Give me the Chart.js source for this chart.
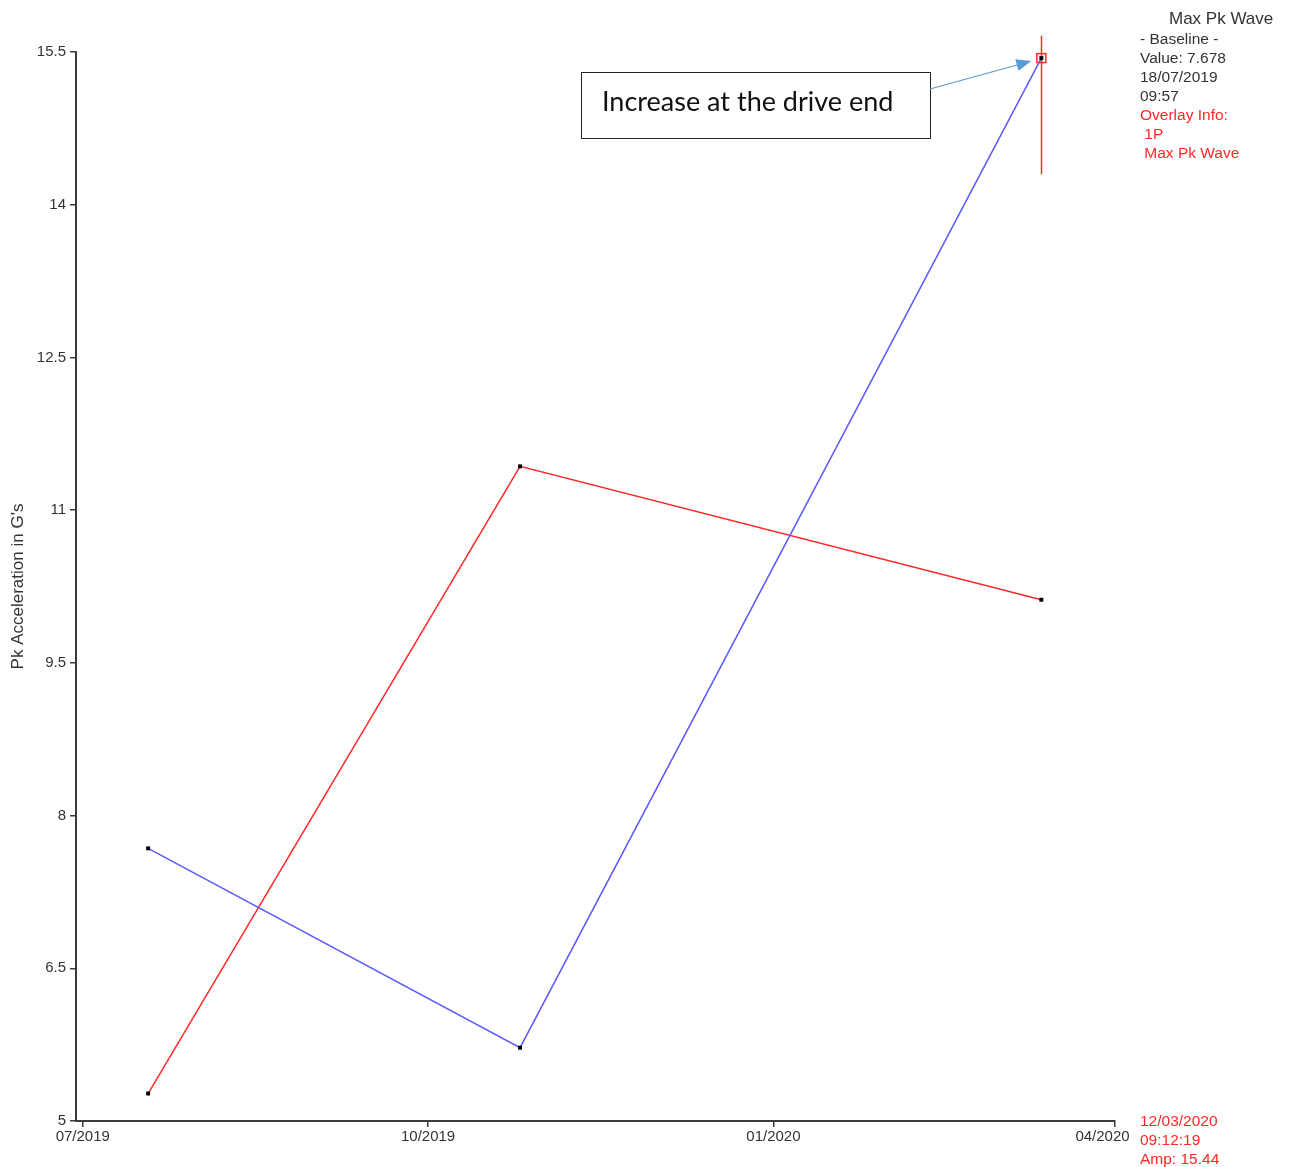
<!DOCTYPE html>
<html>
<head>
<meta charset="utf-8">
<script src="https://cdn.jsdelivr.net/npm/chart.js@4.4.1/dist/chart.umd.min.js"></script>
<style>
  body { margin: 0; background: #fff; }
  #wrap { width: 1290px; height: 1167px; position: relative; }
</style>
</head>
<body>
<div id="wrap"><canvas id="graph"></canvas></div>
<script>
// measurement dates and values
const dates = ['2019-07-18T09:57', '2019-10-25T12:00', '2020-03-12T09:12'];
const blueValues = [7.678, 5.72, 15.44];   // Max Pk Wave
const redValues = [5.27, 11.43, 10.12];    // overlay 1P Max Pk Wave

// axis ticks
const tickDates = ['2019-07-01T00:00', '2019-10-01T00:00', '2020-01-01T00:00', '2020-04-01T00:00'];
const tickLabels = ['07/2019', '10/2019', '01/2020', '04/2020'];
const yTicks = [5, 6.5, 8, 9.5, 11, 12.5, 14, 15.5];

// cursor at last reading
const cursorRange = [14.3, 15.66];

const infoLines = ['- Baseline -', 'Value: 7.678', '18/07/2019', '09:57'];
const overlayLines = ['Overlay Info:', ' 1P', ' Max Pk Wave'];
const cursorLines = ['12/03/2020', '09:12:19', 'Amp: 15.44'];

const BLUE = 'rgb(90, 90, 255)';
const RED = 'rgb(255, 40, 40)';
const AXIS = '#3a3a3a';
const FONT = '"Liberation Sans", Arial, sans-serif';

// days since 01/07/2019
function toDays(s) {
    return (Date.parse(s + 'Z') - Date.parse('2019-07-01T00:00Z')) / 86400000;
}
const dayValues = dates.map(toDays);
const tickDays = tickDates.map(toDays);

function points(values) {
    return values.map((v, i) => ({ x: dayValues[i], y: v }));
}

const overlayPlugin = {
    id: 'overlay',
    beforeDatasetsDraw(chart) {
        const ctx = chart.ctx;
        const xs = chart.scales.x, ys = chart.scales.y;
        const cx = Math.round(xs.getPixelForValue(dayValues[dayValues.length - 1])) + 0.5;
        ctx.save();
        ctx.strokeStyle = RED;
        ctx.lineWidth = 1.5;
        ctx.beginPath();
        ctx.moveTo(cx, ys.getPixelForValue(cursorRange[1]));
        ctx.lineTo(cx, ys.getPixelForValue(cursorRange[0]));
        ctx.stroke();
        ctx.restore();
    },
    afterDraw(chart) {
        const ctx = chart.ctx;
        const xs = chart.scales.x, ys = chart.scales.y;
        const last = dayValues.length - 1;
        const cx = xs.getPixelForValue(dayValues[last]);
        const cy = ys.getPixelForValue(blueValues[last]);
        ctx.save();

        // box round the selected point
        ctx.strokeStyle = RED;
        ctx.lineWidth = 1.5;
        ctx.strokeRect(cx - 4.5, cy - 4.5, 9, 9);

        // info text on the right
        ctx.textBaseline = 'middle';
        ctx.textAlign = 'left';
        ctx.fillStyle = '#333';
        ctx.font = '17px ' + FONT;
        ctx.fillText('Max Pk Wave', 1169, 19);
        ctx.font = '15.5px ' + FONT;
        infoLines.forEach((t, i) => ctx.fillText(t, 1140, 40 + i * 19));
        ctx.fillStyle = RED;
        overlayLines.forEach((t, i) => ctx.fillText(t, 1140, 116 + i * 19));
        cursorLines.forEach((t, i) => ctx.fillText(t, 1140, 1122 + i * 19));

        // callout box and arrow
        ctx.strokeStyle = '#222';
        ctx.lineWidth = 1;
        ctx.strokeRect(581.5, 72.5, 349, 66);
        ctx.fillStyle = '#111';
        ctx.font = '27px Lato, "Open Sans", sans-serif';
        ctx.fillText('Increase at the drive end', 602, 102);

        const x0 = 930, y0 = 89, x1 = cx - 10, y1 = cy + 3;
        const ang = Math.atan2(y1 - y0, x1 - x0);
        ctx.strokeStyle = '#5b9bd5';
        ctx.fillStyle = '#5b9bd5';
        ctx.lineWidth = 1.2;
        ctx.beginPath();
        ctx.moveTo(x0, y0);
        ctx.lineTo(x1 - 12 * Math.cos(ang), y1 - 12 * Math.sin(ang));
        ctx.stroke();
        ctx.beginPath();
        ctx.moveTo(x1, y1);
        ctx.lineTo(x1 - 15 * Math.cos(ang) + 6 * Math.sin(ang), y1 - 15 * Math.sin(ang) - 6 * Math.cos(ang));
        ctx.lineTo(x1 - 15 * Math.cos(ang) - 6 * Math.sin(ang), y1 - 15 * Math.sin(ang) + 6 * Math.cos(ang));
        ctx.closePath();
        ctx.fill();
        ctx.restore();
    }
};

new Chart(document.getElementById('graph'), {
    type: 'line',
    data: {
        datasets: [{
            label: 'Max Pk Wave',
            data: points(blueValues),
            borderColor: BLUE,
            borderWidth: 1.5,
            pointStyle: 'rect',
            pointRadius: 2.8,
            pointBackgroundColor: '#000',
            pointBorderColor: '#000',
            pointBorderWidth: 0,
            fill: false
        }, {
            label: '1P Max Pk Wave',
            data: points(redValues),
            borderColor: RED,
            borderWidth: 1.5,
            pointStyle: 'rect',
            pointRadius: 2.8,
            pointBackgroundColor: '#000',
            pointBorderColor: '#000',
            pointBorderWidth: 0,
            fill: false
        }]
    },
    options: {
        responsive: true,
        maintainAspectRatio: false,
        animation: false,
        devicePixelRatio: 1,
        layout: { padding: { top: 52, right: 175, left: 0, bottom: 0 } },
        plugins: {
            legend: { display: false },
            tooltip: { enabled: false }
        },
        scales: {
            x: {
                type: 'linear',
                min: -1.8,
                max: tickDays[tickDays.length - 1],
                afterBuildTicks: s => { s.ticks = tickDays.map(v => ({ value: v })); },
                afterFit: s => { s.height = 46; },
                ticks: {
                    // last label sits left of its tick, as in the original
                    callback: (v, i) => i === tickLabels.length - 1 ? tickLabels[i] + '\u2007\u2007\u2007' : tickLabels[i],
                    color: '#333',
                    font: { family: FONT, size: 15 },
                    padding: 1,
                    maxRotation: 0
                },
                grid: { drawOnChartArea: false, drawTicks: true, tickLength: 6, color: AXIS, lineWidth: 1.5 },
                border: { display: true, color: AXIS, width: 2 }
            },
            y: {
                min: 5,
                max: 15.5,
                afterBuildTicks: s => { s.ticks = yTicks.map(v => ({ value: v })); },
                afterFit: s => { s.width = 76; },
                ticks: {
                    color: '#333',
                    font: { family: FONT, size: 15 },
                    padding: 4
                },
                grid: { drawOnChartArea: false, drawTicks: true, tickLength: 6, color: AXIS, lineWidth: 1.5 },
                border: { display: true, color: AXIS, width: 2 },
                title: {
                    display: true,
                    text: "Pk Acceleration in G's",
                    color: '#333',
                    font: { family: FONT, size: 17 },
                    padding: { top: 8, bottom: 0 }
                }
            }
        }
    },
    plugins: [overlayPlugin]
});
</script>
</body>
</html>
